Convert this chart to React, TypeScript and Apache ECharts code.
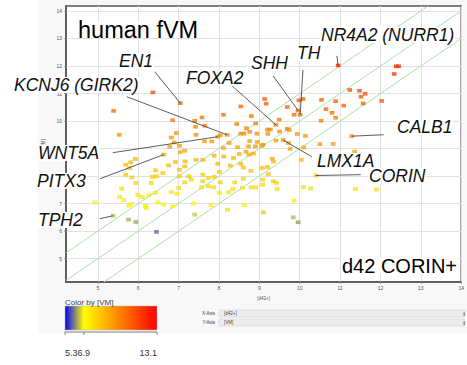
import React, { useEffect, useRef } from "react";
import * as echarts from "echarts";

// ---- axis setup ----
const xTicks = [5, 6, 7, 8, 9, 10, 11, 12, 13, 14];
const yTicks = [5, 6, 7, 8, 9, 10, 11, 12, 13, 14];
const xRange = [4.21, 14];
const yRange = [4.15, 14.18];
const diagOffsets = [1, 0, -1];

// ---- colour scale ([VM]) ----
const colorValues = [5.3, 6.9, 13.1];
const colorRGB = [
  [0, 0, 255],
  [255, 255, 0],
  [255, 0, 0],
];
const colorLabels = ["5.3", "6.9", "13.1"];

// ---- unlabeled genes: [d42+] and [VM] ----
const d42Values = [
  6.36, 5.39, 8.54, 8.11, 6.85, 7.4, 7.58, 7.42, 7.65, 8.44, 6.94, 5.53, 6.82, 7.43, 8.03, 8.68, 8.54, 8.62, 6.89, 7.02,
  7.64, 7.82, 8.25, 8.11, 8.46, 12.39, 12.45, 12.34, 11.24, 11.48, 11.62, 11.52, 12.03, 11.57, 9.13, 9.17, 9.98, 10.08,
  10.54, 10.89, 11.09, 9.69, 9.86, 10.65, 10.8, 10.89, 10.53, 8.8, 9.49, 8.91, 9.2, 9.27, 9.69, 9.74, 9.5, 8.76, 8.94,
  9.21, 9.94, 10.14, 8.76, 8.95, 9.41, 9.72, 9.09, 8.73, 8.9, 10.1, 10.5, 10.83, 11.36, 6.78, 7.04, 7.15, 5.93, 5.81,
  5.69, 5.79, 6.92, 7.16, 6.75, 7.43, 7.6, 7.15, 7.88, 8.12, 8.36, 8.5, 8.67, 7.97, 8.28, 8.54, 8.6, 5.69, 5.84, 6.43,
  6.35, 6.45, 6.61, 7.02, 7.02, 7.25, 7.31, 7.15, 7.6, 7.74, 8.01, 7.88, 7.6, 7.74, 7.87, 8.03, 8.39, 8.6, 8.34, 8.24,
  8.58, 5.94, 6.32, 5.59, 7.0, 6.82, 6.96, 7.57, 8.01, 5.54, 5.64, 5.99, 6.1, 6.26, 6.42, 4.93, 5.77, 5.83, 6.18, 6.2,
  6.49, 6.63, 6.85, 7.37, 7.8, 8.21, 8.63, 5.76, 5.94, 7.4, 6.45, 9.06, 9.76, 8.74, 8.85, 9.32, 9.35, 10.04, 9.07, 9.2,
  8.79, 9.22, 9.08, 9.08, 9.35, 9.42, 8.8, 8.91, 9.44, 10.09, 10.27, 11.38, 11.9, 9.86, 9.1, 9.84, 9.96,
];
const vmValues = [
  11.04, 10.37, 10.53, 10.23, 10.03, 10.01, 10.13, 9.79, 9.83, 9.89, 9.56, 9.5, 9.4, 9.5, 9.48, 9.74, 9.54, 9.54, 9.22,
  9.1, 9.26, 9.26, 9.2, 9.02, 9.05, 11.99, 11.99, 11.71, 11.13, 11.1, 10.99, 10.88, 10.73, 10.64, 10.8, 10.63, 10.75,
  10.8, 10.77, 10.72, 10.56, 10.51, 10.23, 10.43, 10.3, 10.12, 10.01, 10.18, 10.05, 9.91, 9.69, 9.69, 9.72, 9.67, 9.62,
  9.61, 9.54, 9.53, 9.53, 9.46, 9.27, 9.24, 9.29, 9.2, 9.14, 9.08, 9.08, 9.04, 9.16, 9.17, 8.89, 9.07, 8.87, 8.92, 8.62,
  8.5, 8.41, 8.29, 8.51, 8.53, 8.39, 8.59, 8.59, 8.35, 8.74, 8.71, 8.66, 8.8, 8.89, 8.45, 8.38, 8.44, 8.31, 8.05, 7.95,
  8.21, 7.97, 7.99, 8.11, 8.23, 7.99, 7.99, 7.87, 7.77, 8.05, 7.93, 8.15, 7.97, 7.81, 7.63, 7.59, 7.77, 7.77, 7.9, 7.53,
  7.41, 7.57, 7.75, 7.75, 7.54, 7.57, 7.42, 7.36, 7.59, 7.39, 7.24, 7.12, 7.32, 7.23, 7.3, 7.39, 7.04, 6.92, 6.99, 6.92,
  6.84, 7.04, 6.96, 6.9, 7.0, 6.94, 6.78, 6.95, 6.42, 6.33, 6.6, 5.97, 9.1, 8.99, 8.78, 8.82, 8.63, 8.53, 8.59, 8.29, 8.33,
  8.19, 8.07, 7.87, 7.69, 7.81, 7.75, 7.59, 7.59, 7.53, 7.6, 7.55, 7.53, 7.51, 7.11, 6.68, 6.5, 6.32,
];

// ---- labelled genes ----
const geneNames = [
  "EN1",
  "KCNJ6 (GIRK2)",
  "FOXA2",
  "SHH",
  "TH",
  "NR4A2 (NURR1)",
  "CALB1",
  "LMX1A",
  "CORIN",
  "WNT5A",
  "PITX3",
  "TPH2",
];
const geneD42 = [7.04, 8.2, 9.41, 9.96, 10.01, 10.95, 11.29, 9.59, 10.4, 7.97, 6.63, 5.38];
const geneVM = [10.65, 9.5, 9.86, 10.38, 10.23, 12.02, 9.45, 9.31, 8.02, 9.43, 8.78, 6.56];
// where each leader line leaves its label (data coords)
const leaderD42 = [6.41, 5.72, 8.3, 9.34, 10.08, 10.92, 12.08, 10.3, 11.51, 5.37, 5.05, 5.05];
const leaderVM = [11.79, 10.88, 11.31, 11.64, 11.86, 12.37, 9.5, 8.7, 8.05, 8.85, 7.9, 6.45];

// ---- layout (pixels) for the label texts ----
const geneLabelPos = [
  [119, 61],
  [14, 85],
  [186, 78],
  [251, 63],
  [297, 53],
  [321, 35],
  [397, 127],
  [317, 161],
  [369, 176],
  [38, 153],
  [37, 181],
  [38, 220],
];

function vmColor(v: number) {
  const i = v <= colorValues[1] ? 0 : 1;
  let t = (v - colorValues[i]) / (colorValues[i + 1] - colorValues[i]);
  t = Math.max(0, Math.min(1, t));
  const a = colorRGB[i];
  const b = colorRGB[i + 1];
  const c = a.map((k, j) => Math.round(k + (b[j] - k) * t));
  return `rgb(${c[0]},${c[1]},${c[2]})`;
}

const FONT = '"Liberation Sans", Arial, sans-serif';

export default function App() {
  const ref = useRef<HTMLDivElement>(null);
  useEffect(() => {
    if (!ref.current) return;
    const chart = echarts.init(ref.current, undefined, { renderer: "svg" });

    const points = d42Values.map((x, i) => [x, vmValues[i]]);
    const genePts = geneD42.map((x, i) => [x, geneVM[i]]);

    const diagData = diagOffsets.map((k) => {
      const x0 = Math.max(xRange[0], yRange[0] - k);
      const x1 = Math.min(xRange[1], yRange[1] - k);
      return { coords: [[x0, x0 + k], [x1, x1 + k]] };
    });
    const leaderData = geneNames.map((_, i) => ({
      coords: [[leaderD42[i], leaderVM[i]], [geneD42[i], geneVM[i]]],
    }));

    // colour bar geometry
    const cbX = 65, cbY = 306, cbW = 92, cbH = 24;
    const cbPos = (v: number) => cbX + ((v - colorValues[0]) / (colorValues[2] - colorValues[0])) * cbW;
    const stops = colorValues.map((v, i) => ({
      offset: (v - colorValues[0]) / (colorValues[2] - colorValues[0]),
      color: `rgb(${colorRGB[i].join(",")})`,
    }));

    const txt = (x: number, y: number, text: string, font: string, fill = "#111", align = "left", bg = false) => ({
      type: "text",
      x,
      y,
      z: 50,
      silent: true,
      style: {
        text,
        font,
        fill,
        textAlign: align,
        textVerticalAlign: "middle",
        align,
        verticalAlign: "middle",
        ...(bg ? { backgroundColor: "#ffffff", padding: [0, 1, 0, 1], lineHeight: 16 } : {}),
      },
    });

    const graphics: any[] = [
      {
        type: "rect",
        z: -10,
        shape: { x: 38, y: 0, width: 429, height: 334 },
        style: { fill: "#f8f8f8" },
        silent: true,
      },
      txt(77, 30, "human fVM", `23.5px ${FONT}`, "#000", "left", true),
      txt(341, 266, "d42 CORIN+", `20px ${FONT}`, "#000", "left", true),
      ...geneNames.map((g, i) =>
        txt(geneLabelPos[i][0] - 1, geneLabelPos[i][1], g, `italic 17.5px ${FONT}`, "#111", "left", true)
      ),
      // colour legend
      txt(65, 302, "Color by [VM]", `8px ${FONT}`, "#444"),
      {
        type: "rect",
        shape: { x: cbX, y: cbY, width: cbW, height: cbH },
        style: {
          fill: new echarts.graphic.LinearGradient(0, 0, 1, 0, stops),
          stroke: "#bbb",
          lineWidth: 0.5,
        },
      },
      {
        type: "line",
        shape: { x1: cbX, y1: 332, x2: cbX + cbW, y2: 332 },
        style: { stroke: "#666", lineWidth: 0.8 },
      },
      ...colorValues.map((v) => ({
        type: "line",
        shape: { x1: cbPos(v), y1: 332, x2: cbPos(v), y2: 335 },
        style: { stroke: "#666", lineWidth: 0.8 },
      })),
      txt(65, 353, colorLabels[0], `9px ${FONT}`, "#333"),
      txt(77.5, 353, colorLabels[1], `9px ${FONT}`, "#333"),
      txt(157, 353, colorLabels[2], `9px ${FONT}`, "#333", "right"),
      // axis pickers
      txt(215, 313.5, "X-Axis", `4.5px ${FONT}`, "#333", "right"),
      txt(215, 322.5, "Y-Axis", `4.5px ${FONT}`, "#333", "right"),
      {
        type: "rect",
        shape: { x: 219, y: 310, width: 246, height: 7, r: 1 },
        style: { fill: "#ececec", stroke: "#cfcfcf", lineWidth: 0.5 },
      },
      {
        type: "rect",
        shape: { x: 219, y: 319, width: 246, height: 7, r: 1 },
        style: { fill: "#ececec", stroke: "#cfcfcf", lineWidth: 0.5 },
      },
      txt(224, 313.5, "[d42+]", `4.5px ${FONT}`, "#444"),
      txt(224, 322.5, "[VM]", `4.5px ${FONT}`, "#444"),
      txt(462, 313.5, "⇕", `5px ${FONT}`, "#555"),
      txt(462, 322.5, "⇕", `5px ${FONT}`, "#555"),
    ];

    chart.setOption({
      animation: false,
      backgroundColor: "#ffffff",
      grid: {
        left: 66,
        top: 6,
        right: 4,
        bottom: 83,
        show: true,
        backgroundColor: "#ffffff",
        borderColor: "#555",
        borderWidth: 1.5,
      },
      xAxis: {
        type: "value",
        min: xRange[0],
        max: xRange[1],
        name: "[d42+]",
        nameLocation: "middle",
        nameGap: 14,
        nameTextStyle: { fontSize: 4.5, color: "#555", fontFamily: FONT },
        axisLine: { show: true, lineStyle: { color: "#555", width: 1.5 } },
        axisTick: { show: true, length: 2, customValues: xTicks, lineStyle: { color: "#999" } },
        axisLabel: { customValues: xTicks, fontSize: 5, color: "#555", margin: 3, fontFamily: FONT },
        splitLine: { show: true, lineStyle: { color: "#e2e2e2", width: 1 } },
      },
      yAxis: {
        type: "value",
        min: yRange[0],
        max: yRange[1],
        name: "[VM]",
        nameLocation: "middle",
        nameGap: 18,
        nameTextStyle: { fontSize: 4.5, color: "#555", fontFamily: FONT },
        axisLine: { show: true, lineStyle: { color: "#555", width: 1.5 } },
        axisTick: { show: true, length: 2, customValues: yTicks, lineStyle: { color: "#999" } },
        axisLabel: { customValues: yTicks, fontSize: 5, color: "#555", margin: 4, fontFamily: FONT },
        splitLine: { show: true, lineStyle: { color: "#e2e2e2", width: 1 } },
      },
      series: [
        {
          type: "lines",
          coordinateSystem: "cartesian2d",
          silent: true,
          z: 2,
          lineStyle: { color: "#a6e3a6", width: 1, opacity: 1 },
          data: diagData,
        },
        {
          type: "scatter",
          z: 3,
          symbol: "rect",
          symbolSize: [4.5, 3.5],
          data: [...points, ...genePts],
          itemStyle: {
            color: (p: any) => vmColor(p.value[1]),
            borderColor: "rgba(0,0,0,0.15)",
            borderWidth: 0.4,
          },
        },
        {
          type: "lines",
          coordinateSystem: "cartesian2d",
          silent: true,
          z: 4,
          lineStyle: { color: "#333", width: 0.8, opacity: 1 },
          data: leaderData,
        },
      ],
      graphic: graphics,
    });
    return () => chart.dispose();
  }, []);
  return <div ref={ref} style={{ position: "absolute", left: 0, top: 0, width: 467, height: 365 }} />;
}
